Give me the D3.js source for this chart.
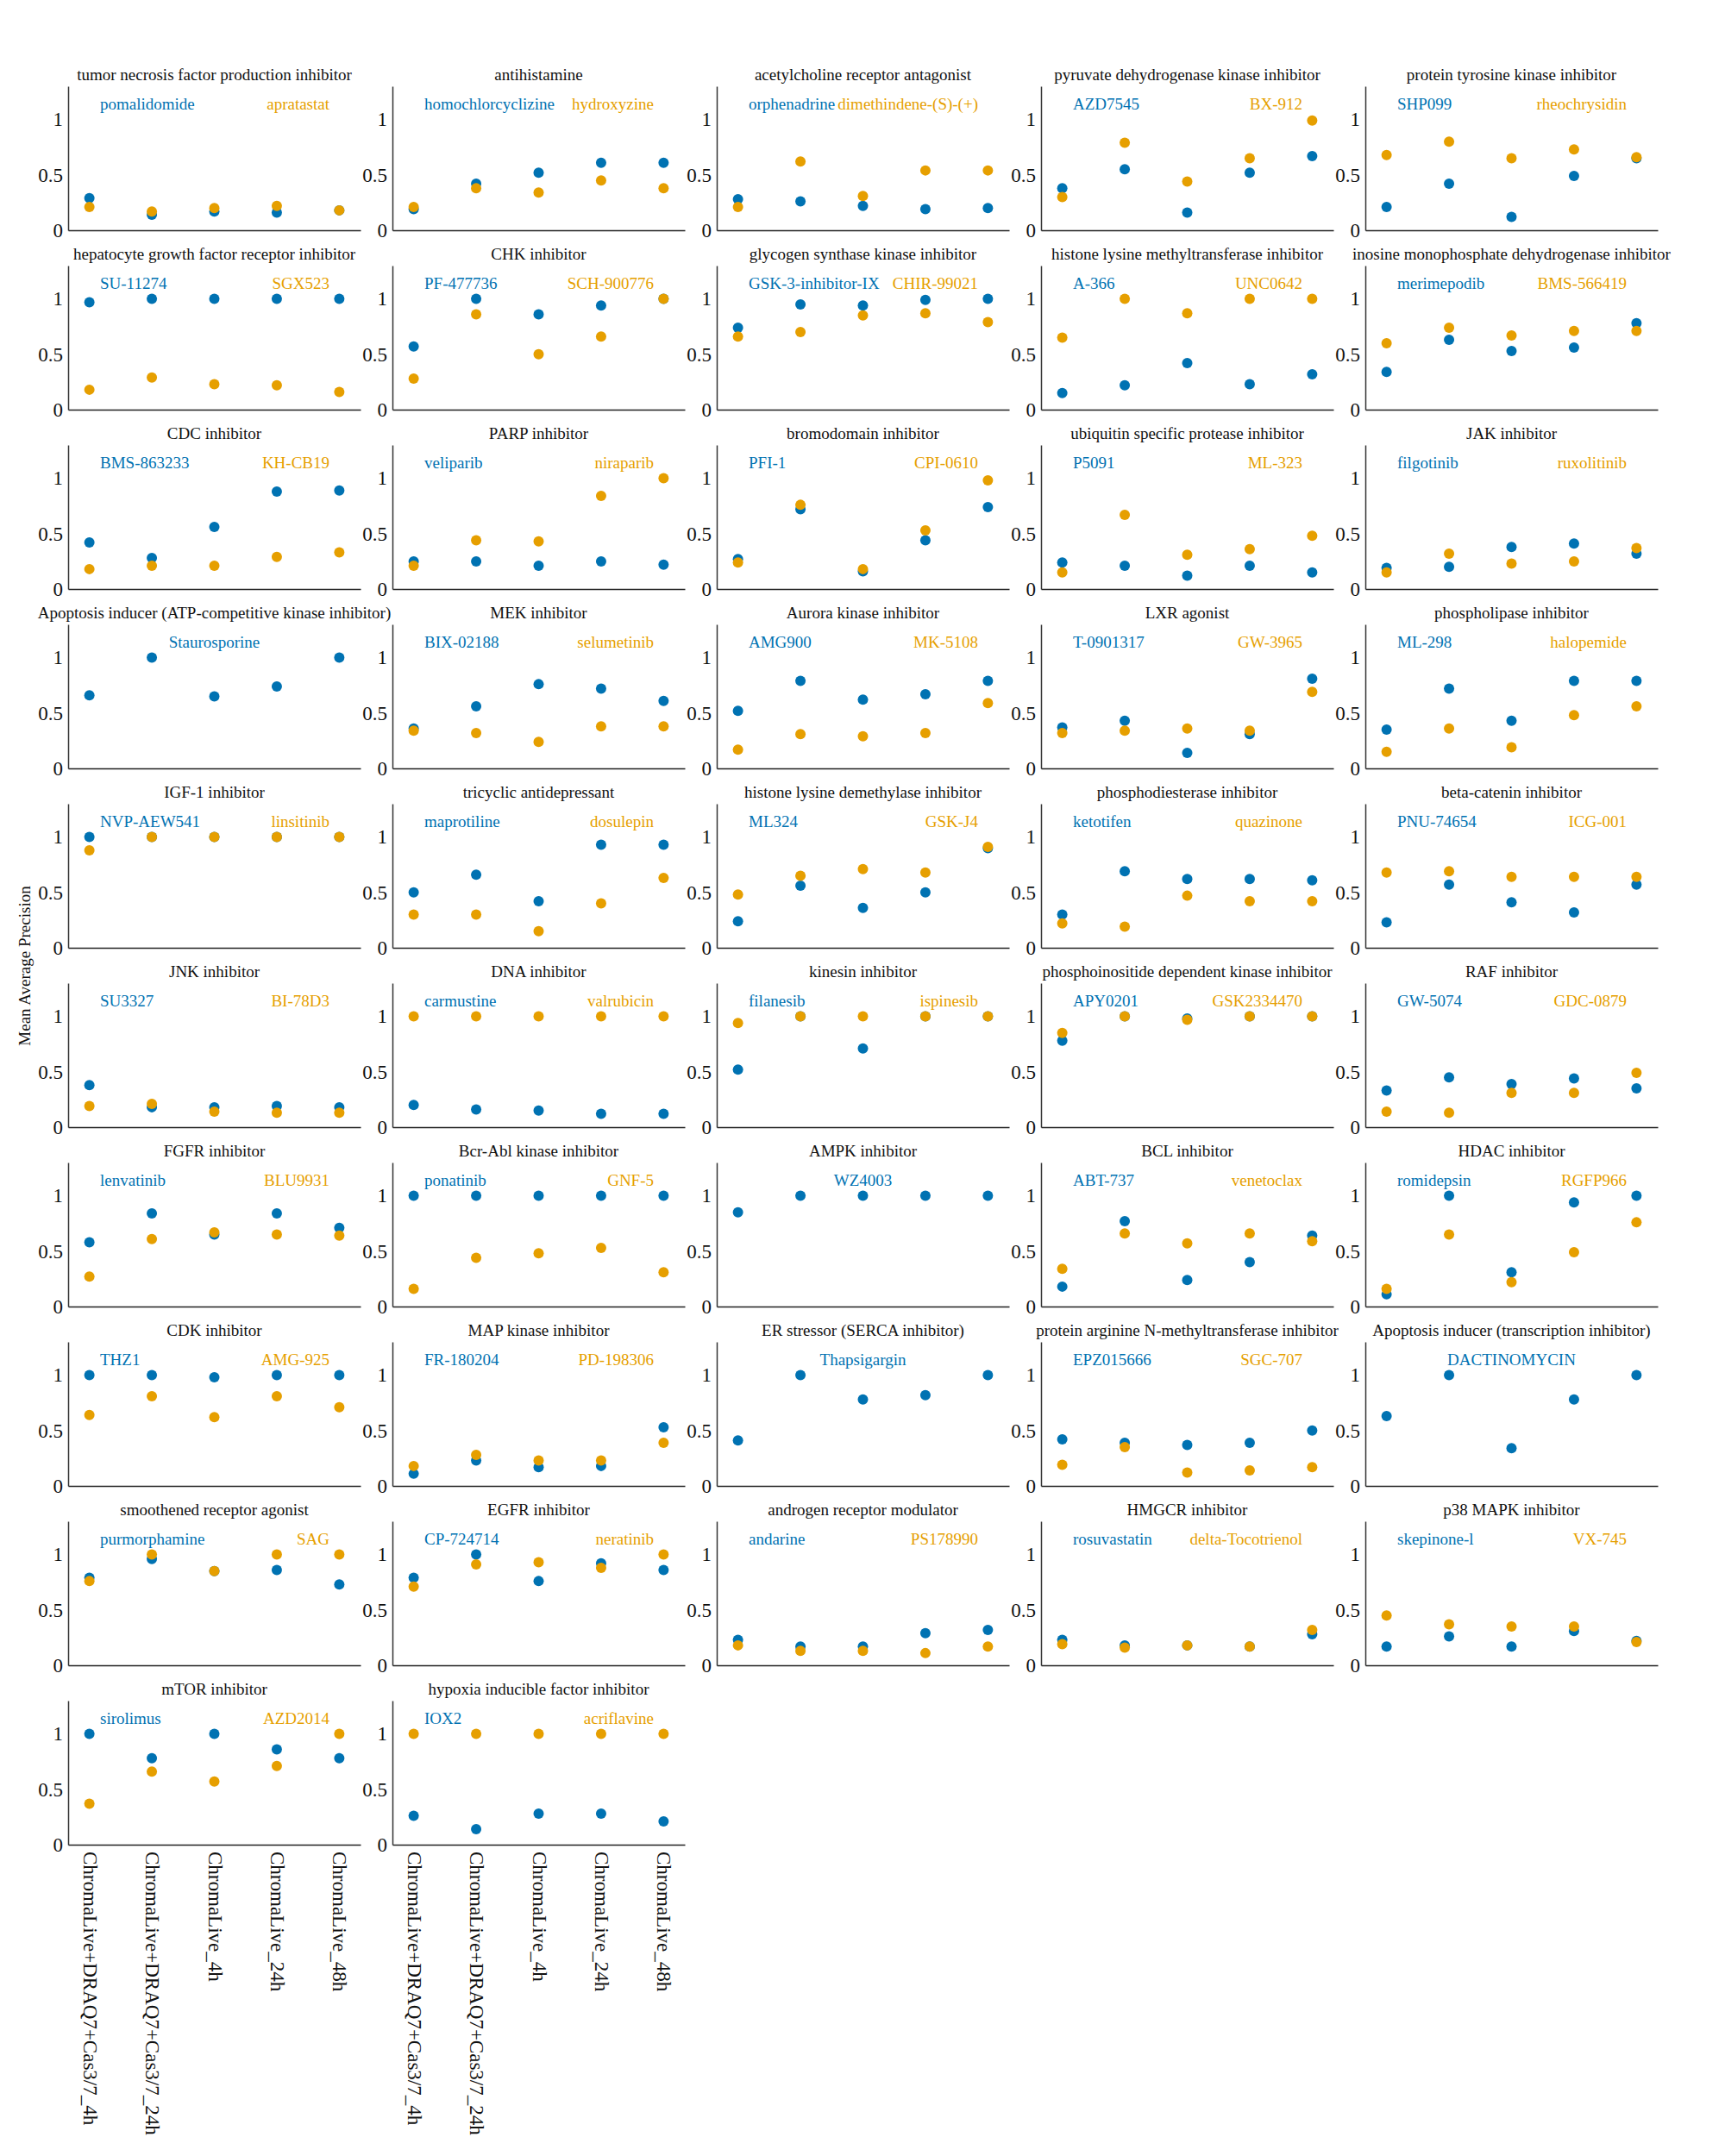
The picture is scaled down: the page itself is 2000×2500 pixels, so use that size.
<!DOCTYPE html>
<html>
<head>
<meta charset="utf-8">
<script src="https://cdn.jsdelivr.net/npm/d3@7"></script>
<style>
  html, body { margin: 0; padding: 0; background: #fff; }
  svg { display: block; font-family: "Liberation Serif", "Times New Roman", serif; }
</style>
</head>
<body>
<div id="chart"></div>
<script>
const conditions = ["ChromaLive+DRAQ7+Cas3/7_4h", "ChromaLive+DRAQ7+Cas3/7_24h", "ChromaLive_4h", "ChromaLive_24h", "ChromaLive_48h"];

const titles = [
  "tumor necrosis factor production inhibitor", "antihistamine", "acetylcholine receptor antagonist", "pyruvate dehydrogenase kinase inhibitor", "protein tyrosine kinase inhibitor",
  "hepatocyte growth factor receptor inhibitor", "CHK inhibitor", "glycogen synthase kinase inhibitor", "histone lysine methyltransferase inhibitor", "inosine monophosphate dehydrogenase inhibitor",
  "CDC inhibitor", "PARP inhibitor", "bromodomain inhibitor", "ubiquitin specific protease inhibitor", "JAK inhibitor",
  "Apoptosis inducer (ATP-competitive kinase inhibitor)", "MEK inhibitor", "Aurora kinase inhibitor", "LXR agonist", "phospholipase inhibitor",
  "IGF-1 inhibitor", "tricyclic antidepressant", "histone lysine demethylase inhibitor", "phosphodiesterase inhibitor", "beta-catenin inhibitor",
  "JNK inhibitor", "DNA inhibitor", "kinesin inhibitor", "phosphoinositide dependent kinase inhibitor", "RAF inhibitor",
  "FGFR inhibitor", "Bcr-Abl kinase inhibitor", "AMPK inhibitor", "BCL inhibitor", "HDAC inhibitor",
  "CDK inhibitor", "MAP kinase inhibitor", "ER stressor (SERCA inhibitor)", "protein arginine N-methyltransferase inhibitor", "Apoptosis inducer (transcription inhibitor)",
  "smoothened receptor agonist", "EGFR inhibitor", "androgen receptor modulator", "HMGCR inhibitor", "p38 MAPK inhibitor",
  "mTOR inhibitor", "hypoxia inducible factor inhibitor"
];

const blueNames = [
  "pomalidomide", "homochlorcyclizine", "orphenadrine", "AZD7545", "SHP099",
  "SU-11274", "PF-477736", "GSK-3-inhibitor-IX", "A-366", "merimepodib",
  "BMS-863233", "veliparib", "PFI-1", "P5091", "filgotinib",
  "Staurosporine", "BIX-02188", "AMG900", "T-0901317", "ML-298",
  "NVP-AEW541", "maprotiline", "ML324", "ketotifen", "PNU-74654",
  "SU3327", "carmustine", "filanesib", "APY0201", "GW-5074",
  "lenvatinib", "ponatinib", "WZ4003", "ABT-737", "romidepsin",
  "THZ1", "FR-180204", "Thapsigargin", "EPZ015666", "DACTINOMYCIN",
  "purmorphamine", "CP-724714", "andarine", "rosuvastatin", "skepinone-l",
  "sirolimus", "IOX2"
];

const orangeNames = [
  "apratastat", "hydroxyzine", "dimethindene-(S)-(+)", "BX-912", "rheochrysidin",
  "SGX523", "SCH-900776", "CHIR-99021", "UNC0642", "BMS-566419",
  "KH-CB19", "niraparib", "CPI-0610", "ML-323", "ruxolitinib",
  null, "selumetinib", "MK-5108", "GW-3965", "halopemide",
  "linsitinib", "dosulepin", "GSK-J4", "quazinone", "ICG-001",
  "BI-78D3", "valrubicin", "ispinesib", "GSK2334470", "GDC-0879",
  "BLU9931", "GNF-5", null, "venetoclax", "RGFP966",
  "AMG-925", "PD-198306", null, "SGC-707", null,
  "SAG", "neratinib", "PS178990", "delta-Tocotrienol", "VX-745",
  "AZD2014", "acriflavine"
];

const blueValues = [
  [0.29, 0.14, 0.17, 0.16, 0.18], [0.19, 0.42, 0.52, 0.61, 0.61], [0.28, 0.26, 0.22, 0.19, 0.20], [0.38, 0.55, 0.16, 0.52, 0.67], [0.21, 0.42, 0.12, 0.49, 0.65],
  [0.97, 1.0, 1.0, 1.0, 1.0], [0.57, 1.0, 0.86, 0.94, 1.0], [0.74, 0.95, 0.94, 0.99, 1.0], [0.15, 0.22, 0.42, 0.23, 0.32], [0.34, 0.63, 0.53, 0.56, 0.78],
  [0.42, 0.28, 0.56, 0.88, 0.89], [0.25, 0.25, 0.21, 0.25, 0.22], [0.27, 0.72, 0.16, 0.44, 0.74], [0.24, 0.21, 0.12, 0.21, 0.15], [0.19, 0.20, 0.38, 0.41, 0.32],
  [0.66, 1.0, 0.65, 0.74, 1.0], [0.36, 0.56, 0.76, 0.72, 0.61], [0.52, 0.79, 0.62, 0.67, 0.79], [0.37, 0.43, 0.14, 0.31, 0.81], [0.35, 0.72, 0.43, 0.79, 0.79],
  [1.0, 1.0, 1.0, 1.0, 1.0], [0.50, 0.66, 0.42, 0.93, 0.93], [0.24, 0.56, 0.36, 0.50, 0.90], [0.30, 0.69, 0.62, 0.62, 0.61], [0.23, 0.57, 0.41, 0.32, 0.57],
  [0.38, 0.18, 0.18, 0.19, 0.18], [0.20, 0.16, 0.15, 0.12, 0.12], [0.52, 1.0, 0.71, 1.0, 1.0], [0.78, 1.0, 0.98, 1.0, 1.0], [0.33, 0.45, 0.39, 0.44, 0.35],
  [0.58, 0.84, 0.65, 0.84, 0.71], [1.0, 1.0, 1.0, 1.0, 1.0], [0.85, 1.0, 1.0, 1.0, 1.0], [0.18, 0.77, 0.24, 0.40, 0.64], [0.11, 1.0, 0.31, 0.94, 1.0],
  [1.0, 1.0, 0.98, 1.0, 1.0], [0.11, 0.23, 0.17, 0.18, 0.53], [0.41, 1.0, 0.78, 0.82, 1.0], [0.42, 0.39, 0.37, 0.39, 0.50], [0.63, 1.0, 0.34, 0.78, 1.0],
  [0.79, 0.96, 0.85, 0.86, 0.73], [0.79, 1.0, 0.76, 0.92, 0.86], [0.23, 0.17, 0.17, 0.29, 0.32], [0.23, 0.18, 0.18, 0.17, 0.28], [0.17, 0.26, 0.17, 0.31, 0.22],
  [1.0, 0.78, 1.0, 0.86, 0.78], [0.26, 0.14, 0.28, 0.28, 0.21]
];

const orangeValues = [
  [0.21, 0.17, 0.20, 0.22, 0.18], [0.21, 0.38, 0.34, 0.45, 0.38], [0.21, 0.62, 0.31, 0.54, 0.54], [0.30, 0.79, 0.44, 0.65, 0.99], [0.68, 0.80, 0.65, 0.73, 0.66],
  [0.18, 0.29, 0.23, 0.22, 0.16], [0.28, 0.86, 0.50, 0.66, 1.0], [0.66, 0.70, 0.85, 0.87, 0.79], [0.65, 1.0, 0.87, 1.0, 1.0], [0.60, 0.74, 0.67, 0.71, 0.71],
  [0.18, 0.21, 0.21, 0.29, 0.33], [0.21, 0.44, 0.43, 0.84, 1.0], [0.24, 0.76, 0.18, 0.53, 0.98], [0.15, 0.67, 0.31, 0.36, 0.48], [0.15, 0.32, 0.23, 0.25, 0.37],
  null, [0.34, 0.32, 0.24, 0.38, 0.38], [0.17, 0.31, 0.29, 0.32, 0.59], [0.32, 0.34, 0.36, 0.34, 0.69], [0.15, 0.36, 0.19, 0.48, 0.56],
  [0.88, 1.0, 1.0, 1.0, 1.0], [0.30, 0.30, 0.15, 0.40, 0.63], [0.48, 0.65, 0.71, 0.68, 0.91], [0.22, 0.19, 0.47, 0.42, 0.42], [0.68, 0.69, 0.64, 0.64, 0.64],
  [0.19, 0.21, 0.14, 0.13, 0.13], [1.0, 1.0, 1.0, 1.0, 1.0], [0.94, 1.0, 1.0, 1.0, 1.0], [0.85, 1.0, 0.97, 1.0, 1.0], [0.14, 0.13, 0.31, 0.31, 0.49],
  [0.27, 0.61, 0.67, 0.65, 0.64], [0.16, 0.44, 0.48, 0.53, 0.31], null, [0.34, 0.66, 0.57, 0.66, 0.59], [0.16, 0.65, 0.22, 0.49, 0.76],
  [0.64, 0.81, 0.62, 0.81, 0.71], [0.18, 0.28, 0.23, 0.23, 0.39], null, [0.19, 0.35, 0.12, 0.14, 0.17], null,
  [0.76, 1.0, 0.85, 1.0, 1.0], [0.71, 0.91, 0.93, 0.88, 1.0], [0.18, 0.13, 0.13, 0.11, 0.17], [0.19, 0.16, 0.18, 0.17, 0.32], [0.45, 0.37, 0.35, 0.35, 0.21],
  [0.37, 0.66, 0.57, 0.71, 1.0], [1.0, 1.0, 1.0, 1.0, 1.0]
];

const yTicks = [0, 0.5, 1];
const yTitle = "Mean Average Precision";

const BLUE = "#0072B2", ORANGE = "#E69F00";
const W = 2000, H = 2500;
const nCols = 5;
const left0 = 79, top0 = 100, colStep = 376, rowStep = 208;
const pw = 339, ph = 167;
const nPanels = titles.length;
const nRows = Math.ceil(nPanels / nCols);

const svg = d3.select("#chart").append("svg").attr("width", W).attr("height", H);

const x = d3.scalePoint().domain(conditions).range([0, pw]).padding(0.34);
const y = d3.scaleLinear().domain([0, 1.3]).range([ph, 0]);

titles.forEach((t, i) => {
  const c = i % nCols, r = Math.floor(i / nCols);
  const g = svg.append("g").attr("transform", `translate(${left0 + c * colStep},${top0 + r * rowStep})`);

  g.append("text").attr("x", pw / 2).attr("y", -7).attr("text-anchor", "middle")
    .attr("font-size", 19).attr("fill", "#111").text(t);

  const ya = g.append("g").call(d3.axisLeft(y).tickValues(yTicks).tickSize(0).tickPadding(6).tickFormat(d => String(d)));
  ya.select(".domain").attr("stroke", "#333").attr("stroke-width", 1.5);
  ya.selectAll("text").attr("font-size", 23).attr("fill", "#111").attr("font-family", "Liberation Serif, Times New Roman, serif");

  const showX = r === nRows - 1;
  const xa = g.append("g").attr("transform", `translate(0,${ph})`)
    .call(d3.axisBottom(x).tickSize(0).tickSizeOuter(0).tickPadding(8).tickFormat(showX ? (d => d) : () => ""));
  xa.select(".domain").attr("stroke", "#222").attr("stroke-width", 1.6);
  xa.selectAll(".tick text")
    .attr("font-size", 23).attr("fill", "#111").attr("font-family", "Liberation Serif, Times New Roman, serif")
    .attr("text-anchor", "start").attr("dy", "0.32em")
    .attr("transform", "rotate(90)").attr("x", 8).attr("y", 0);

  const single = orangeNames[i] === null;
  if (single) {
    g.append("text").attr("x", pw / 2).attr("y", 27).attr("text-anchor", "middle")
      .attr("font-size", 19).attr("fill", BLUE).text(blueNames[i]);
  } else {
    g.append("text").attr("x", 37).attr("y", 27).attr("text-anchor", "start")
      .attr("font-size", 19).attr("fill", BLUE).text(blueNames[i]);
    g.append("text").attr("x", 303).attr("y", 27).attr("text-anchor", "end")
      .attr("font-size", 19).attr("fill", ORANGE).text(orangeNames[i]);
  }

  g.append("g").selectAll("circle").data(blueValues[i].map((v, k) => ({ c: conditions[k], v })))
    .join("circle").attr("cx", d => x(d.c)).attr("cy", d => y(d.v)).attr("r", 6).attr("fill", BLUE);
  if (orangeValues[i]) {
    g.append("g").selectAll("circle").data(orangeValues[i].map((v, k) => ({ c: conditions[k], v })))
      .join("circle").attr("cx", d => x(d.c)).attr("cy", d => y(d.v)).attr("r", 6).attr("fill", ORANGE);
  }
});

svg.append("text").attr("transform", "translate(28,1120) rotate(-90)")
  .attr("text-anchor", "middle").attr("dominant-baseline", "central")
  .attr("font-size", 19).attr("fill", "#111").text(yTitle);
</script>
</body>
</html>
